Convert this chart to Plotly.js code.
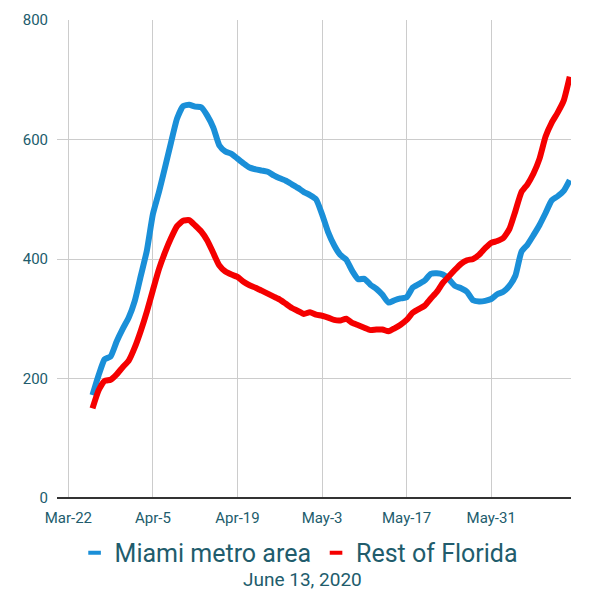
<!DOCTYPE html>
<html>
<head>
<meta charset="utf-8">
<script src="https://cdn.plot.ly/plotly-3.0.1.min.js"></script>
<style>html,body{margin:0;padding:0;background:#fff;}#chart{width:600px;height:600px;}</style>
</head>
<body>
<div id="chart"></div>
<script>
// Series names
const seriesNames = ["Miami metro area", "Rest of Florida"];
// First date and length of the daily series (Mar 26 – Jun 13, 2020)
const startDate = "2020-03-26";
const dayCount = 80;

const miami = [
  172, 205, 232, 237, 262, 283, 302, 330, 372, 414,
  475, 512, 553, 595, 635, 656, 658, 655, 654, 640,
  620, 590, 580, 576, 568, 560, 553, 550, 548, 546,
  540, 535, 531, 525, 519, 512, 507, 500, 475, 445,
  423, 407, 399, 380, 366, 367, 357, 350, 340, 327,
  331, 334, 336, 352, 358, 364, 375, 376, 374, 366,
  355, 351, 345, 331, 329, 330, 333, 341, 345, 355,
  372, 412, 424, 440, 457, 477, 498, 505, 514, 532
];
const restOfFlorida = [
  150, 180, 196, 198, 207, 219, 230, 252, 280, 312,
  348, 383, 411, 435, 455, 464, 465, 456, 446, 431,
  410, 389, 379, 374, 370, 362, 356, 352, 347, 342,
  337, 332, 325, 318, 313, 308, 311, 307, 305, 302,
  298, 297, 300, 293, 289, 285, 281, 282, 282, 279,
  284, 290, 298, 310, 316, 322, 334, 345, 360, 371,
  382, 392, 398, 400, 407, 418, 427, 430, 435, 450,
  480, 512, 525, 543, 568, 605, 628, 645, 665, 705
];
const tickVals = ["2020-03-22","2020-04-05","2020-04-19","2020-05-03","2020-05-17","2020-05-31"];
const tickText = ["Mar-22","Apr-5","Apr-19","May-3","May-17","May-31"];
const yTicks = [0, 200, 400, 600, 800];
const subtitle = "June 13, 2020";

const colors = ["#1a8fd8", "#f50000"];
const textColor = "#215c6c";

// daily dates
const dates = [];
{
  const d0 = new Date(startDate + "T12:00:00Z");
  for (let i = 0; i < dayCount; i++) {
    const d = new Date(d0.getTime() + i * 86400000);
    dates.push(d.toISOString().slice(0, 10));
  }
}

const seriesVals = [miami, restOfFlorida];
const traces = [];
seriesVals.forEach((vals, k) => {
  traces.push({
    x: dates, y: vals, type: "scatter", mode: "lines",
    name: seriesNames[k], showlegend: false,
    line: {color: colors[k], width: 6, shape: "spline", smoothing: 0.5},
    hoverinfo: "skip"
  });
});
// legend entries (short dash symbols)
seriesNames.forEach((n, k) => {
  traces.push({
    x: [null], y: [null], type: "scatter", mode: "markers", name: n,
    marker: {symbol: "line-ew", size: 9, color: colors[k], line: {color: colors[k], width: 4}}
  });
});

const layout = {
  width: 600, height: 600,
  margin: {l: 57, r: 29, t: 20, b: 102},
  paper_bgcolor: "#ffffff", plot_bgcolor: "#ffffff",
  font: {family: "Roboto, sans-serif", color: textColor, size: 15},
  xaxis: {
    type: "date",
    range: ["2020-03-20 03:00", "2020-06-13 05:00"],
    tickvals: tickVals, ticktext: tickText,
    showgrid: true, gridcolor: "#cccccc", gridwidth: 1,
    zeroline: false, showline: false, ticks: "", ticklabelstandoff: 9,
    tickfont: {size: 15, color: textColor}
  },
  yaxis: {
    range: [0, 800], tickvals: yTicks,
    showgrid: true, gridcolor: "#cccccc", gridwidth: 1,
    zeroline: true, zerolinecolor: "#333333", zerolinewidth: 1.5,
    showline: false, ticks: "", ticklabelstandoff: 8,
    tickfont: {size: 15, color: textColor}
  },
  legend: {
    orientation: "h", x: 0.470, xanchor: "center", y: -0.115, yanchor: "middle",
    font: {size: 25, color: textColor}, bgcolor: "rgba(0,0,0,0)", itemwidth: 30
  },
  annotations: [{
    text: subtitle, xref: "paper", yref: "paper", x: 0.477, y: -0.1715,
    xanchor: "center", yanchor: "middle", showarrow: false,
    font: {size: 19, color: textColor}
  }]
};

Plotly.newPlot("chart", traces, layout, {displayModeBar: false, staticPlot: true});
</script>
</body>
</html>
